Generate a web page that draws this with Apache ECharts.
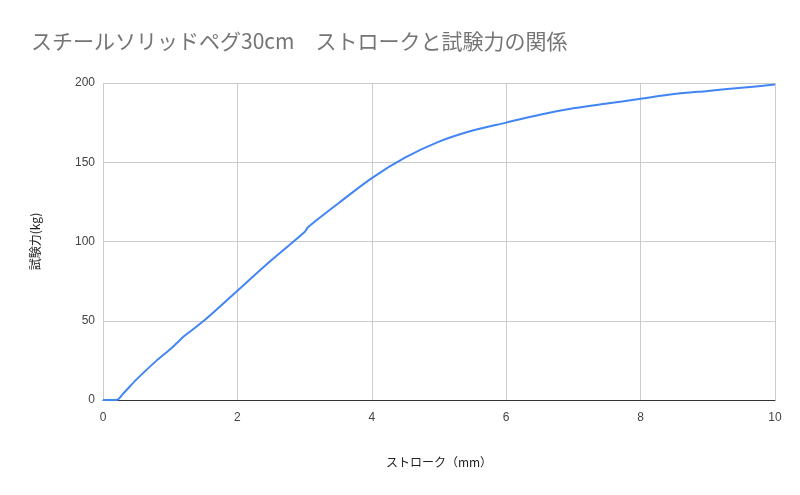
<!DOCTYPE html>
<html><head><meta charset="utf-8">
<script src="https://cdn.jsdelivr.net/npm/echarts@6/dist/echarts.min.js"></script>
<style>html,body{margin:0;padding:0;background:#fff}#c{width:800px;height:495px}</style>
</head><body><div id="c"></div>
<script>
const strokeMm = [0,0.1,0.2,0.3,0.5,0.8,1.0,1.1,1.2,1.5,2.0,2.5,3.0,3.05,3.5,4.0,4.5,5.0,5.5,6.0,6.5,7.0,7.5,8.0,8.5,9.0,9.5,10.0];
const forceKg = [0,0,0,4,13,25,32,36,40,50,69,88,106,109,124,140,153,163,170,175,180,184,187,190,193,195,197,199];
const xTicks = [0,2,4,6,8,10];
const yTicks = [0,50,100,150,200];
const chart = echarts.init(document.getElementById('c'));
chart.setOption({
  animation:false,
  title:{text:'スチールソリッドペグ30cm　ストロークと試験力の関係',left:26,top:26,textStyle:{fontFamily:'Noto Sans CJK JP',fontSize:21,fontWeight:'normal',color:'#757575'}},
  grid:{left:103,right:25,top:83,bottom:95},
  xAxis:{type:'value',min:0,max:10,interval:2,name:'ストローク（mm）',nameLocation:'middle',nameGap:56,
    nameTextStyle:{fontFamily:'Noto Sans CJK JP',fontSize:12,color:'#222'},
    axisLine:{lineStyle:{color:'#333'}},axisTick:{show:false},
    axisLabel:{color:'#444',fontSize:12,margin:12},splitLine:{lineStyle:{color:'#ccc'}}},
  yAxis:{type:'value',min:0,max:200,interval:50,name:'試験力(kg)',nameLocation:'middle',nameGap:62,
    nameTextStyle:{fontFamily:'Noto Sans CJK JP',fontSize:12,color:'#222'},
    axisLine:{show:false},axisTick:{show:false},
    axisLabel:{color:'#444',fontSize:12},splitLine:{lineStyle:{color:'#ccc'}}},
  series:[{type:'line',data:strokeMm.map((x,i)=>[x,forceKg[i]]),showSymbol:false,smooth:0.3,
    lineStyle:{color:'#4285f4',width:2}}]
});
</script></body></html>
